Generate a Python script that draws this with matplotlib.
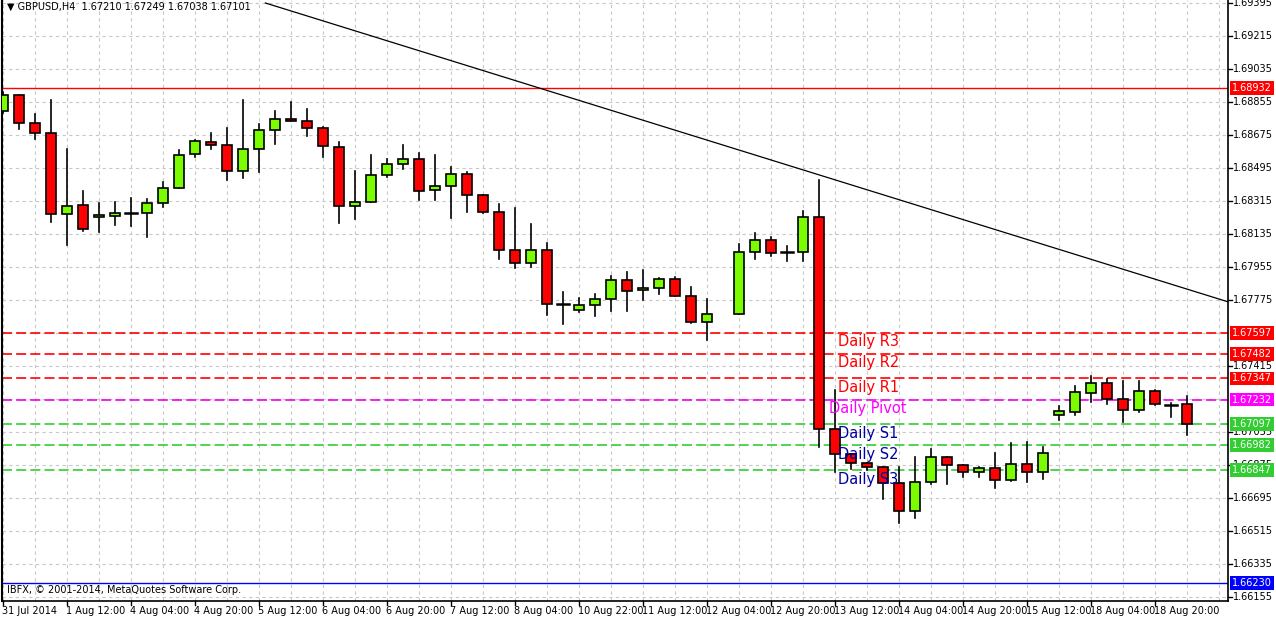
import numpy as np
import matplotlib
matplotlib.use("Agg")
import matplotlib.pyplot as plt

opens = [1.68806,1.68893,1.68740,1.68686,1.68244,1.68293,1.68228,1.68233,1.68249,1.68249,
         1.68304,1.68386,1.68571,1.68637,1.68620,1.68479,1.68599,1.68702,1.68762,1.68751,
         1.68713,1.68610,1.68288,1.68309,1.68457,1.68517,1.68544,1.68375,1.68397,1.68462,
         1.68348,1.68255,1.68048,1.67977,1.68048,1.67753,1.67720,1.67748,1.67780,1.67884,
         1.67829,1.67840,1.67889,1.67797,1.67655,np.nan,1.67699,1.68037,1.68102,1.68037,
         1.68037,1.68228,1.67071,1.66935,1.66886,1.66864,1.66777,1.66624,1.66782,1.66918,
         1.66875,1.66837,1.66858,1.66793,1.66880,1.66837,1.67148,1.67164,1.67268,1.67322,
         1.67235,1.67175,1.67278,1.67202,1.67210]
highs = [1.68910,1.68893,1.68790,1.68866,1.68599,1.68369,1.68304,1.68309,1.68331,1.68326,
         1.68419,1.68593,1.68648,1.68686,1.68713,1.68866,1.68735,1.68806,1.68855,1.68817,
         1.68719,1.68637,1.68479,1.68566,1.68544,1.68620,1.68577,1.68566,1.68500,1.68473,
         1.68348,1.68299,1.68277,1.68189,1.68086,1.67819,1.67786,1.67808,1.67906,1.67928,
         1.67939,1.67895,1.67900,1.67846,1.67780,np.nan,1.68080,1.68140,1.68119,1.68069,
         1.68260,1.68430,1.67284,1.66935,1.66886,1.66864,1.66864,1.66918,1.66962,1.66918,
         1.66875,1.66864,1.66940,1.66995,1.67000,1.66973,1.67197,1.67306,1.67360,1.67344,
         1.67333,1.67333,1.67284,1.67213,1.67249]
lows = [1.68795,1.68708,1.68653,1.68200,1.68075,1.68151,1.68146,1.68184,1.68179,1.68119,
        1.68282,1.68386,1.68555,1.68599,1.68430,1.68440,1.68473,1.68626,1.68751,1.68669,
        1.68555,1.68195,1.68217,1.68309,1.68446,1.68490,1.68320,1.68320,1.68222,1.68255,
        1.68249,1.67999,1.67949,1.67955,1.67693,1.67644,1.67709,1.67688,1.67715,1.67715,
        1.67775,1.67808,1.67797,1.67649,1.67557,np.nan,1.67699,1.67999,1.68015,1.67988,
        1.67988,1.66973,1.66837,1.66853,1.66848,1.66689,1.66558,1.66586,1.66771,1.66771,
        1.66809,1.66809,1.66749,1.66788,1.66782,1.66798,1.67120,1.67148,1.67219,1.67208,
        1.67109,1.67164,1.67202,1.67137,1.67038]
closes = [1.68893,1.68740,1.68686,1.68244,1.68288,1.68162,1.68239,1.68249,1.68249,1.68304,
          1.68386,1.68566,1.68642,1.68620,1.68479,1.68599,1.68702,1.68762,1.68751,1.68713,
          1.68615,1.68288,1.68309,1.68457,1.68517,1.68544,1.68369,1.68397,1.68462,1.68348,
          1.68255,1.68048,1.67977,1.68048,1.67753,1.67753,1.67748,1.67780,1.67884,1.67824,
          1.67840,1.67889,1.67797,1.67655,1.67699,np.nan,1.68037,1.68102,1.68031,1.68037,
          1.68228,1.67071,1.66935,1.66886,1.66864,1.66777,1.66624,1.66782,1.66918,1.66875,
          1.66837,1.66858,1.66793,1.66880,1.66837,1.66940,1.67169,1.67273,1.67322,1.67235,
          1.67175,1.67278,1.67208,1.67202,1.67101]

x_labels = ["31 Jul 2014","1 Aug 12:00","4 Aug 04:00","4 Aug 20:00","5 Aug 12:00","6 Aug 04:00",
            "6 Aug 20:00","7 Aug 12:00","8 Aug 04:00","10 Aug 22:00","11 Aug 12:00","12 Aug 04:00",
            "12 Aug 20:00","13 Aug 12:00","14 Aug 04:00","14 Aug 20:00","15 Aug 12:00",
            "18 Aug 04:00","18 Aug 20:00"]
price_ticks = [1.66155 + 0.0018*k for k in range(19)]

level_names = ["Daily R3","Daily R2","Daily R1","Daily Pivot","Daily S1","Daily S2","Daily S3"]
level_values = [1.67597,1.67482,1.67347,1.67232,1.67097,1.66982,1.66847]
level_colors = ["#ff0000","#ff0000","#ff0000","#ee00ee","#32cd32","#32cd32","#32cd32"]
level_text_colors = ["#ff0000","#ff0000","#ff0000","#ff00ff","#0000a0","#0000a0","#0000a0"]
upper_line = 1.68932
lower_line = 1.66230
trend_x = [16.4, 76.6]
trend_y = [1.69395, 1.67764]

fig = plt.figure(figsize=(12.76, 6.19), dpi=100)
ax = fig.add_axes([2/1276, 18/619, 1226/1276, 601/619])
ymin = 1.69395 - 598/18333
ymax = 1.69395 + 3/18333
ax.set_ylim(ymin, ymax)
ax.set_xlim(-0.0625, 76.5625)

for k in range(0, 77, 2):
    ax.axvline(k, color="#c8c8c8", ls=(0, (3, 3)), lw=0.8, zorder=0)
for p in price_ticks:
    ax.axhline(p, color="#c8c8c8", ls=(0, (3, 3)), lw=0.8, zorder=0)

for v, c in zip(level_values, level_colors):
    ax.axhline(v, color=c, ls=(0, (6, 2.5)), lw=1.2, zorder=1)
ax.axhline(upper_line, color="#ff0000", lw=1, zorder=1)
ax.axhline(lower_line, color="#0000ff", lw=1, zorder=1)
ax.plot(trend_x, trend_y, color="black", lw=0.9, zorder=2)

for i, (o, h, l, c) in enumerate(zip(opens, highs, lows, closes)):
    if np.isnan(o):
        continue
    ax.plot([i, i], [l, h], color="black", lw=1.2, zorder=3)
    if abs(c - o) < 0.00004:
        ax.plot([i - 0.35, i + 0.35], [o, o], color="black", lw=1.8, zorder=4)
        continue
    col = "#7cfc00" if c > o else "#ff0000"
    ax.add_patch(plt.Rectangle((i - 0.33, min(o, c)), 0.66, abs(c - o),
                               facecolor=col, edgecolor="black", lw=1.2, zorder=4))

for name, v, tc in zip(level_names, level_values, level_text_colors):
    xoff = 51.65 if name == "Daily Pivot" else 52.2
    ax.text(xoff, v - 0.00008, name, color=tc, fontsize=10.5, va="top", ha="left",
            family="DejaVu Sans", zorder=5)

ax.set_xticks([])
ax.set_yticks([])
ax.spines["top"].set_visible(False)
ax.spines["left"].set_linewidth(1.5)
ax.spines["right"].set_linewidth(1.2)
ax.spines["bottom"].set_linewidth(1.2)

shown_near = (1.67415, 1.67055, 1.66155, 1.68855, 1.66875)
for p in price_ticks:
    near = any(abs(p - v) < 0.0003 for v in level_values + [upper_line, lower_line])
    if near and not any(abs(p - s) < 1e-6 for s in shown_near):
        continue
    ax.text(1.004, (p - ymin) / (ymax - ymin), f"{p:.5f}", transform=ax.transAxes,
            fontsize=7, va="center", ha="left", color="black", clip_on=False)
    ax.plot([1.0, 1.003], [(p - ymin) / (ymax - ymin)] * 2, transform=ax.transAxes,
            color="black", lw=1, clip_on=False)
box_vals = [upper_line] + level_values + [lower_line]
box_cols = ["#ff0000"] + level_colors[:3] + ["#ff00ff"] + level_colors[4:] + ["#0000ff"]
for v, c in zip(box_vals, box_cols):
    ax.text(1.0035, (v - ymin) / (ymax - ymin), f"{v:.5f}", transform=ax.transAxes,
            fontsize=7, va="center", ha="left", color="white", clip_on=False,
            bbox=dict(boxstyle="square,pad=0.2", facecolor=c, edgecolor="none"), zorder=6)

for k, lab in enumerate(x_labels):
    xi = 4 * k
    ax.text(xi - 0.05, -0.008, lab, transform=ax.get_xaxis_transform(), fontsize=7,
            ha="left", va="top", clip_on=False)
    ax.plot([xi, xi], [0, -0.006], transform=ax.get_xaxis_transform(), color="black",
            lw=1, clip_on=False)

ax.text(0.004, 0.997, "\u25BC GBPUSD,H4  1.67210 1.67249 1.67038 1.67101", transform=ax.transAxes,
        fontsize=7, va="top", ha="left")
ax.text(0.004, 0.018, "IBFX, \u00A9 2001-2014, MetaQuotes Software Corp.", transform=ax.transAxes,
        fontsize=7, va="center", ha="left")

fig.savefig("out.png", dpi=100)
